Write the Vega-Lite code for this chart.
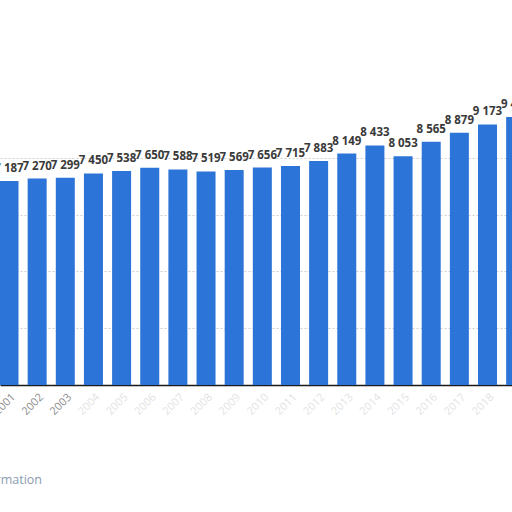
{
  "$schema": "https://vega.github.io/schema/vega-lite/v6.json",
  "description": "Bar chart by year, partially cropped on both sides",
  "width": 512,
  "height": 385,
  "autosize": "none",
  "padding": {"left": 0, "top": 0, "right": 0, "bottom": 127},
  "background": "white",
  "config": {
    "view": {"stroke": null},
    "locale": {"number": {"decimal": ".", "thousands": " ", "grouping": [3], "currency": ["", ""]}},
    "font": "Open Sans"
  },
  "data": {
    "values": [
      {"year": 2001, "value": 7187},
      {"year": 2002, "value": 7270},
      {"year": 2003, "value": 7299},
      {"year": 2004, "value": 7450},
      {"year": 2005, "value": 7538},
      {"year": 2006, "value": 7650},
      {"year": 2007, "value": 7588},
      {"year": 2008, "value": 7519},
      {"year": 2009, "value": 7569},
      {"year": 2010, "value": 7656},
      {"year": 2011, "value": 7715},
      {"year": 2012, "value": 7883},
      {"year": 2013, "value": 8149},
      {"year": 2014, "value": 8433},
      {"year": 2015, "value": 8053},
      {"year": 2016, "value": 8565},
      {"year": 2017, "value": 8879},
      {"year": 2018, "value": 9173},
      {"year": 2019, "value": 9440}
    ]
  },
  "title": {
    "text": "Additional Information",
    "orient": "bottom",
    "anchor": "start",
    "dx": -81,
    "offset": 57,
    "fontSize": 12.5,
    "fontWeight": "normal",
    "color": "#8a9bb2"
  },
  "encoding": {
    "x": {
      "field": "year",
      "type": "quantitative",
      "scale": {"domain": [2000.68, 2018.87], "nice": false, "zero": false, "padding": 0},
      "axis": {
        "title": null,
        "values": [2001, 2002, 2003, 2004, 2005, 2006, 2007, 2008, 2009, 2010, 2011, 2012, 2013, 2014, 2015, 2016, 2017, 2018, 2019],
        "format": "d",
        "labelAngle": -45,
        "labelAlign": "right",
        "labelBaseline": "top",
        "labelFontSize": 11,
        "labelColor": "#8c8c8c",
        "labelOpacity": {"condition": {"test": "datum.value <= 2003", "value": 1}, "value": 0.25},
        "labelPadding": 6,
        "labelOverlap": false,
        "labelFlush": false,
        "ticks": false,
        "grid": false,
        "domainColor": "#1a1a1a",
        "domainWidth": 1.5
      }
    },
    "y": {
      "field": "value",
      "type": "quantitative",
      "scale": {"domain": [0, 13556], "nice": false},
      "axis": {
        "title": null,
        "values": [2000, 4000, 6000, 8000],
        "labels": false,
        "ticks": false,
        "domain": false,
        "grid": true,
        "gridColor": "#cfcfcf",
        "gridDash": [2, 2],
        "gridWidth": 1
      }
    }
  },
  "layer": [
    {
      "mark": {"type": "bar", "width": 19, "color": "#2c74d7", "clip": true}
    },
    {
      "mark": {
        "type": "text",
        "baseline": "bottom",
        "dy": -7,
        "fontSize": 11.5,
        "fontWeight": "bold",
        "color": "#3a3a3a",
        "clip": true
      },
      "encoding": {
        "text": {"field": "value", "type": "quantitative", "format": ",d"}
      }
    }
  ]
}
